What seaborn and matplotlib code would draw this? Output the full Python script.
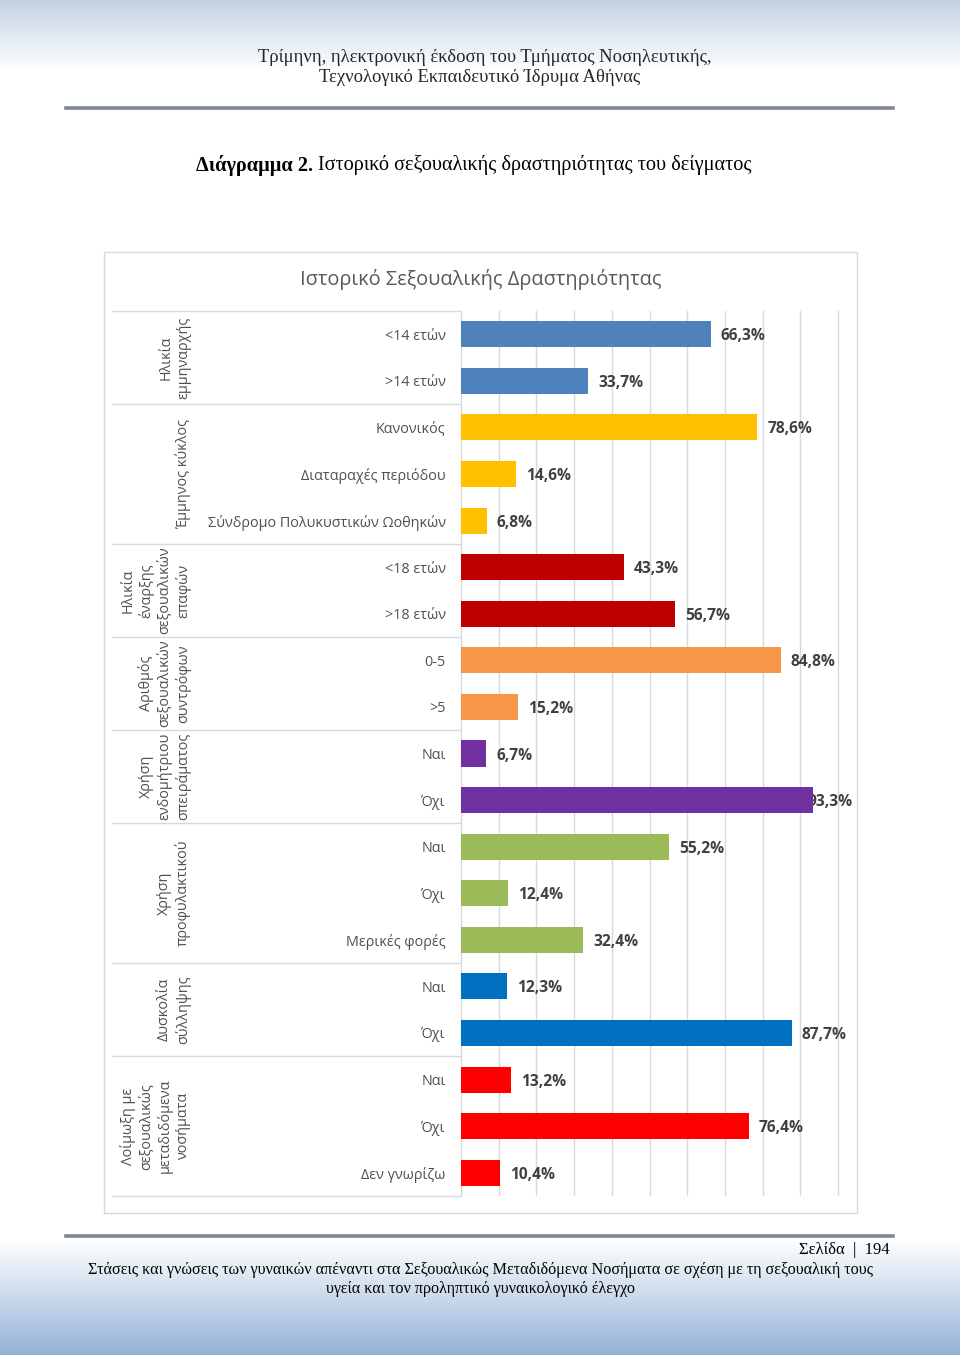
import numpy as np
import pandas as pd
import matplotlib
matplotlib.use("Agg")
import matplotlib.pyplot as plt
import matplotlib.transforms as mtransforms
import seaborn as sns

# ---------------- data ----------------
groups = [
    "Ηλικία\nεμμηναρχής",
    "Έμμηνος κύκλος",
    "Ηλικία\nέναρξης\nσεξουαλικών\nεπαφών",
    "Αριθμός\nσεξουαλικών\nσυντρόφων",
    "Χρήση\nενδομήτριου\nσπειράματος",
    "Χρήση\nπροφυλακτικού",
    "Δυσκολία\nσύλληψης",
    "Λοίμωξη με\nσεξουαλικώς\nμεταδιδόμενα\nνοσήματα",
]
group_sizes = [2, 3, 2, 2, 2, 3, 2, 3]
categories = [
    "<14 ετών", ">14 ετών",
    "Κανονικός", "Διαταραχές περιόδου", "Σύνδρομο Πολυκυστικών Ωοθηκών",
    "<18 ετών", ">18 ετών",
    "0-5", ">5",
    "Ναι", "Όχι",
    "Ναι", "Όχι", "Μερικές φορές",
    "Ναι", "Όχι",
    "Ναι", "Όχι", "Δεν γνωρίζω",
]
values = [66.3, 33.7, 78.6, 14.6, 6.8, 43.3, 56.7, 84.8, 15.2, 6.7, 93.3,
          55.2, 12.4, 32.4, 12.3, 87.7, 13.2, 76.4, 10.4]
group_colors = ["#4F81BD", "#FFC000", "#C00000", "#F79646", "#7030A0",
                "#9BBB59", "#0070C0", "#FF0000"]

header_lines = ["Τρίμηνη, ηλεκτρονική έκδοση του Τμήματος Νοσηλευτικής,",
                "Τεχνολογικό Εκπαιδευτικό Ίδρυμα Αθήνας"]
fig_title_bold = "Διάγραμμα 2."
fig_title_rest = "Ιστορικό σεξουαλικής δραστηριότητας του δείγματος"
chart_title = "Ιστορικό Σεξουαλικής Δραστηριότητας"
page_label = "Σελίδα  |  194"
footer_lines = ["Στάσεις και γνώσεις των γυναικών απέναντι στα Σεξουαλικώς Μεταδιδόμενα Νοσήματα σε σχέση με τη σεξουαλική τους",
                "υγεία και τον προληπτικό γυναικολογικό έλεγχο"]

# ---------------- table ----------------
grp_col = []
for g, n in zip(groups, group_sizes):
    grp_col += [g] * n
row_ids = [f"{i:02d}|{c}" for i, c in enumerate(categories)]
df = pd.DataFrame({"row": row_ids, "value": values, "group": grp_col, "label": categories})
palette = dict(zip(groups, group_colors))

# ---------------- figure ----------------
W, H = 960, 1355
fig = plt.figure(figsize=(W / 100, H / 100), dpi=100)

def fx(px):
    return px / W

def fy(py):
    return 1 - py / H

# page background gradient
bg = fig.add_axes([0, 0, 1, 1], zorder=-10)
top = np.array([196, 210, 228]) / 255
mid = np.array([255, 255, 255]) / 255
bot = np.array([148, 177, 214]) / 255
img = np.ones((H, 1, 3))
for i in range(H):
    if i < 70:
        t = i / 70
        c = top * (1 - t) + mid * t
    elif i > 1240:
        t = (i - 1240) / (H - 1240)
        c = mid * (1 - t) + bot * t
    else:
        c = mid
    img[i, 0] = c
bg.imshow(img, aspect="auto", extent=[0, 1, 0, 1], origin="upper")
bg.set_xlim(0, 1)
bg.set_ylim(0, 1)
bg.axis("off")

serif = ["Liberation Serif", "DejaVu Serif"]
sans = ["Open Sans", "DejaVu Sans"]

# header
fig.text(fx(485), fy(57), header_lines[0], ha="center", va="center", family=serif, fontsize=13.4, color="#262626")
fig.text(fx(480), fy(78), header_lines[1], ha="center", va="center", family=serif, fontsize=13.4, color="#262626")
fig.add_artist(plt.Line2D([fx(66), fx(893)], [fy(108), fy(108)], color="#7f8891", lw=2.6))

# figure title (bold + regular)
renderer = fig.canvas.get_renderer()
t1 = fig.text(fx(196), fy(165), fig_title_bold, ha="left", va="center", family=serif,
              fontsize=14.6, fontweight="bold", color="#000000")
bb = t1.get_window_extent(renderer=renderer)
fig.text((bb.x1 + 5) / W, fy(165), fig_title_rest, ha="left", va="center", family=serif,
         fontsize=14.6, color="#000000")

# chart frame
fig.add_artist(plt.Rectangle((fx(104), fy(1213)), fx(857) - fx(104), fy(252) - fy(1213),
                             fill=True, facecolor="white", edgecolor="#d9d9d9", lw=1, zorder=0))
fig.text(fx(481), fy(280), chart_title, ha="center", va="center", family=sans,
         fontsize=14.4, color="#595959")

# bar axes
ax = fig.add_axes([fx(461), fy(1196), fx(855) - fx(461), fy(311) - fy(1196)])
ax.set_facecolor("none")
sns.barplot(data=df, x="value", y="row", hue="group", palette=palette, order=row_ids,
            hue_order=groups, orient="h", dodge=False, width=0.56, saturation=1,
            legend=False, ax=ax, zorder=3)
xmax = (855 - 461) / 3.77
ax.set_xlim(0, xmax)
ax.set_ylim(len(row_ids) - 0.5, -0.5)
ax.set_xticks(np.arange(10, 101, 10))
ax.set_xticklabels([])
ax.tick_params(axis="x", length=0)
ax.grid(axis="x", color="#d9d9d9", lw=1, zorder=0)
ax.grid(axis="y", visible=False)
ax.set_axisbelow(True)
for s in ["top", "right", "bottom"]:
    ax.spines[s].set_visible(False)
ax.spines["left"].set_color("#d9d9d9")
ax.spines["left"].set_linewidth(1)
ax.set_xlabel("")
ax.set_ylabel("")
ax.set_yticks(range(len(row_ids)))
ax.set_yticklabels(categories, family=sans, fontsize=10.4, color="#505050")
ax.tick_params(axis="y", length=0, pad=11)

# value labels
px_per_unit = (855 - 461) / xmax
for i, v in enumerate(values):
    s = f"{v:.1f}".replace(".", ",") + "%"
    t = ax.text(v + 10 / px_per_unit, i, s, ha="left", va="center_baseline", family=sans,
                fontsize=11.2, fontweight="bold", color="#404040", zorder=2, clip_on=False)
    tb = t.get_window_extent(renderer=renderer)
    if tb.x1 > 853:
        t.set_x(xmax - 2 / px_per_unit)
        t.set_ha("right")

# group separators and labels
trans = mtransforms.blended_transform_factory(fig.transFigure, ax.transData)
start = 0
bounds = [-0.5]
for g, n in zip(groups, group_sizes):
    end = start + n
    bounds.append(end - 0.5)
    center = (start + end - 1) / 2
    ax.text(fx(191), center, g, transform=trans, rotation=90, ha="right", va="center",
            multialignment="center", family=sans, fontsize=10.4, color="#505050",
            linespacing=1.25, clip_on=False)
    start = end
for b in bounds:
    ax.add_line(plt.Line2D([fx(112), fx(460)], [b, b], transform=trans, color="#d9d9d9",
                           lw=1, clip_on=False))

# footer
fig.add_artist(plt.Line2D([fx(66), fx(893)], [fy(1236), fy(1236)], color="#7f8891", lw=2.6))
fig.text(fx(890), fy(1250), page_label, ha="right", va="center", family=serif, fontsize=12, color="#000000")
fig.text(fx(480), fy(1270), footer_lines[0], ha="center", va="center", family=serif, fontsize=11.65, color="#000000")
fig.text(fx(480), fy(1289), footer_lines[1], ha="center", va="center", family=serif, fontsize=11.65, color="#000000")

fig.savefig("out.png", dpi=100)
